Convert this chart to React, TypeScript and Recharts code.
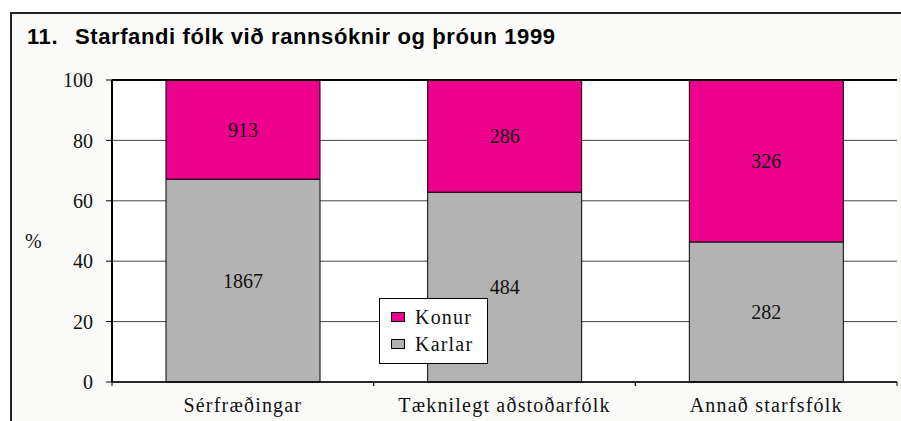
import React from "react";
import { BarChart, Bar, XAxis, YAxis, CartesianGrid, LabelList } from "recharts";

const categories = ["Sérfræðingar", "Tæknilegt aðstoðarfólk", "Annað starfsfólk"];
const karlar = [1867, 484, 282];
const konur = [913, 286, 326];
const yTicks = [0, 0.2, 0.4, 0.6, 0.8, 1];

const data = categories.map((c, i) => ({ name: c, karlar: karlar[i], konur: konur[i] }));

const PINK = "#EC008C";
const GREY = "#B3B3B3";
const SERIF = "'Liberation Serif', 'DejaVu Serif', serif";

const W = 901;
const H = 421;
const M = { top: 80, right: 4, left: 0, bottom: 0 };
const YW = 112;
const XH = 39;
const halfCat = (W - M.right - YW) / categories.length / 2;

const XTick = (props: any) => {
  const { x, y, payload } = props;
  return (
    <g>
      <line x1={x - halfCat} x2={x - halfCat} y1={y} y2={y + 4} stroke="#000" strokeWidth={1} />
      <line x1={x + halfCat} x2={x + halfCat} y1={y} y2={y + 4} stroke="#000" strokeWidth={1} />
      <text x={x} y={y + 30} textAnchor="middle" fontFamily={SERIF} fontSize={20} letterSpacing={1.2} fill="#111">
        {payload.value}
      </text>
    </g>
  );
};

const LegendBox = () => (
  <div
    style={{
      position: "absolute",
      left: 379,
      top: 298,
      width: 107,
      height: 64,
      background: "#fff",
      border: "1px solid #000",
      fontFamily: SERIF,
      fontSize: 20,
      letterSpacing: 1.2,
      color: "#111",
    }}
  >
    {[
      { label: "Konur", color: PINK },
      { label: "Karlar", color: GREY },
    ].map((e, i) => (
      <div key={e.label} style={{ position: "absolute", left: 11, top: 6 + i * 27, height: 24, display: "flex", alignItems: "center" }}>
        <span style={{ display: "inline-block", width: 12, height: 8, background: e.color, border: "1px solid #000", marginRight: 10 }} />
        <span>{e.label}</span>
      </div>
    ))}
  </div>
);

const titleStyle: React.CSSProperties = {
  position: "absolute",
  top: 26,
  fontFamily: "'Liberation Sans', Arial, sans-serif",
  fontWeight: "bold",
  fontSize: 22,
  lineHeight: "22px",
  color: "#000",
  whiteSpace: "pre",
};

export default function App() {
  return (
    <div style={{ position: "absolute", left: 0, top: 0, width: W, height: H, background: "#fff", overflow: "hidden" }}>
      <div
        style={{
          position: "absolute",
          left: 10,
          top: 12,
          width: W,
          height: H,
          borderTop: "2px solid #222",
          borderLeft: "2px solid #222",
          background: "#FAFBF9",
        }}
      />
      <div style={{ ...titleStyle, left: 27, letterSpacing: 0.6 }}>11.</div>
      <div style={{ ...titleStyle, left: 75, letterSpacing: 0.6 }}>Starfandi fólk við rannsóknir og þróun 1999</div>
      <div style={{ position: "absolute", left: 25, top: 230, fontFamily: SERIF, fontSize: 20, color: "#111" }}>%</div>
      <div style={{ position: "absolute", left: 0, top: 0 }}>
        <BarChart width={W} height={H} data={data} margin={M} stackOffset="expand" barSize={154}>
          <CartesianGrid vertical={false} horizontal stroke="#444" strokeWidth={1} fill="#fff" />
          <XAxis
            dataKey="name"
            height={XH}
            tick={<XTick />}
            tickLine={false}
            tickSize={0}
            tickMargin={0}
            axisLine={{ stroke: "#000", strokeWidth: 1.5 }}
            interval={0}
          />
          <YAxis
            type="number"
            domain={[0, 1]}
            ticks={yTicks}
            width={YW}
            tickSize={6}
            tickMargin={13}
            tickLine={{ stroke: "#000" }}
            axisLine={{ stroke: "#000", strokeWidth: 2 }}
            tickFormatter={(v: number) => String(Math.round(v * 100))}
            tick={{ fontFamily: SERIF, fontSize: 20, fill: "#111" }}
          />
          <Bar dataKey="karlar" stackId="a" fill={GREY} stroke="#000" strokeWidth={1} isAnimationActive={false}>
            <LabelList dataKey="karlar" position="center" fontFamily={SERIF} fontSize={20} fill="#111" />
          </Bar>
          <Bar dataKey="konur" stackId="a" fill={PINK} stroke="#000" strokeWidth={1} isAnimationActive={false}>
            <LabelList dataKey="konur" position="center" fontFamily={SERIF} fontSize={20} fill="#111" />
          </Bar>
        </BarChart>
        <svg width={W} height={H} style={{ position: "absolute", left: 0, top: 0, pointerEvents: "none" }}>
          <line x1={YW} x2={W - M.right} y1={M.top} y2={M.top} stroke="#000" strokeWidth={2} />
        </svg>
      </div>
      <LegendBox />
    </div>
  );
}
